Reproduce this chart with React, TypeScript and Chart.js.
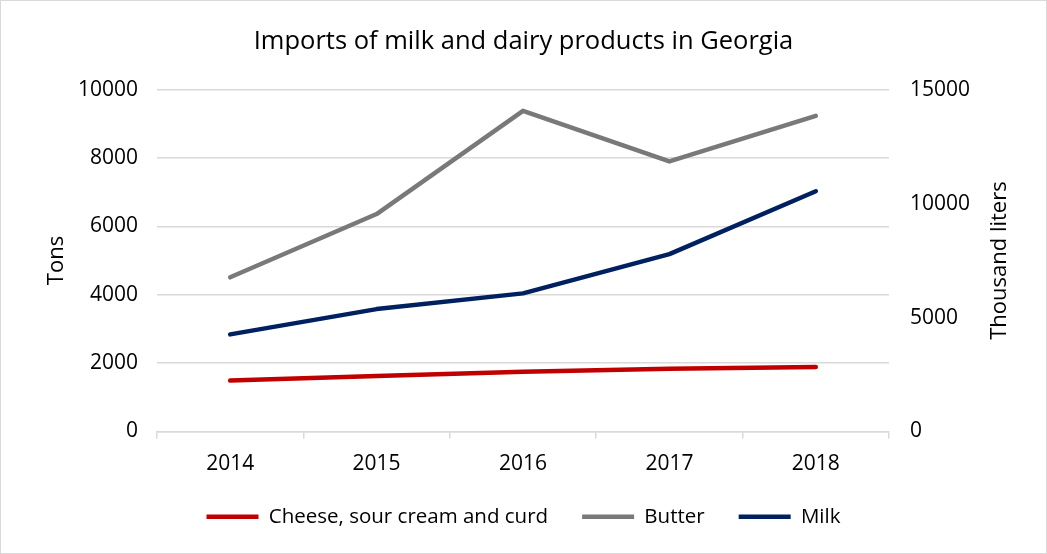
import React, { useEffect, useRef } from "react";
import { Chart, registerables } from "chart.js";

Chart.register(...registerables);

const years = ["2014", "2015", "2016", "2017", "2018"];
const cheese = [1490, 1620, 1750, 1835, 1885];
const butter = [4510, 6360, 9380, 7900, 9230];
const milk = [4260, 5370, 6060, 7780, 10540];

const FONT = "'Open Sans', 'Noto Sans', sans-serif";
const RIGHT_TITLE = "Thousand liters";

const frame = {
  id: "frame",
  beforeDraw(chart: any) {
    const { ctx, width, height } = chart;
    ctx.save();
    ctx.fillStyle = "#ffffff";
    ctx.fillRect(0, 0, width, height);
    ctx.strokeStyle = "#d9d9d9";
    ctx.lineWidth = 1;
    ctx.strokeRect(0.5, 0.5, width - 1, height - 1);
    ctx.restore();
  },
  afterDraw(chart: any) {
    const { ctx, chartArea } = chart;
    const s = chart.scales.y1;
    ctx.save();
    ctx.translate(s.right - 47, (chartArea.top + chartArea.bottom) / 2);
    ctx.rotate(-Math.PI / 2);
    ctx.fillStyle = "#000";
    ctx.font = `22px ${FONT}`;
    ctx.textAlign = "center";
    ctx.textBaseline = "middle";
    ctx.fillText(RIGHT_TITLE, 0, 0);
    ctx.restore();
  },
};

export default function App() {
  const ref = useRef<HTMLCanvasElement | null>(null);
  useEffect(() => {
    if (!ref.current) return;
    const common = {
      borderWidth: 4.5,
      borderCapStyle: "round",
      borderJoinStyle: "round",
      pointRadius: 0,
    };
    const chart = new Chart(ref.current, {
      type: "line",
      data: {
        labels: years,
        datasets: [
          {
            label: "Cheese, sour cream and curd",
            data: cheese,
            borderColor: "#c00000",
            backgroundColor: "#c00000",
            yAxisID: "y",
            ...common,
          },
          {
            label: "Butter",
            data: butter,
            borderColor: "#7a7878",
            backgroundColor: "#7a7878",
            yAxisID: "y",
            ...common,
          },
          {
            label: "Milk",
            data: milk,
            borderColor: "#002060",
            backgroundColor: "#002060",
            yAxisID: "y1",
            ...common,
          },
        ],
      },
      options: {
        animation: false,
        responsive: false,
        events: [],
        layout: { padding: { left: 0, right: 0, top: 0, bottom: 17 } },
        plugins: {
          title: {
            display: true,
            text: "Imports of milk and dairy products in Georgia",
            color: "#000",
            font: { family: FONT, size: 25.5, weight: "normal" },
            padding: { top: 26, bottom: 33 },
          },
          legend: {
            position: "bottom",
            labels: {
              color: "#000",
              font: { family: FONT, size: 20.5 },
              usePointStyle: true,
              pointStyle: "line",
              pointStyleWidth: 52,
              boxHeight: 4,
              padding: 34,
            },
          },
          tooltip: { enabled: false },
        },
        scales: {
          x: {
            offset: true,
            grid: {
              offset: true,
              drawOnChartArea: false,
              drawTicks: true,
              tickLength: 7,
              color: "#d9d9d9",
              lineWidth: 1.5,
            },
            border: { display: true, color: "#d9d9d9", width: 1.5 },
            ticks: {
              color: "#000",
              font: { family: FONT, size: 21 },
              padding: 13,
            },
            afterFit(scale: any) {
              scale.height = 41;
            },
          },
          y: {
            position: "left",
            min: 0,
            max: 10000,
            ticks: {
              stepSize: 2000,
              color: "#000",
              font: { family: FONT, size: 21 },
              padding: 19,
              callback: (v: any) => String(v),
            },
            grid: { color: "#d9d9d9", lineWidth: 1.5, drawTicks: false },
            border: { display: false },
            title: {
              display: true,
              text: "Tons",
              color: "#000",
              font: { family: FONT, size: 22 },
              padding: { top: 44, bottom: 0 },
            },
            afterFit(scale: any) {
              scale.width = 157;
            },
          },
          y1: {
            position: "right",
            min: 0,
            max: 15000,
            ticks: {
              stepSize: 5000,
              color: "#000",
              font: { family: FONT, size: 21 },
              padding: 21,
              callback: (v: any) => String(v),
            },
            grid: { drawOnChartArea: false, drawTicks: false },
            border: { display: false },
            afterFit(scale: any) {
              scale.width = 158;
            },
          },
        },
      } as any,
      plugins: [frame],
    });
    return () => chart.destroy();
  }, []);
  return (
    <div style={{ position: "absolute", left: 0, top: 0, width: 1047, height: 554 }}>
      <canvas ref={ref} width={1047} height={554} style={{ display: "block", width: 1047, height: 554 }} />
    </div>
  );
}
